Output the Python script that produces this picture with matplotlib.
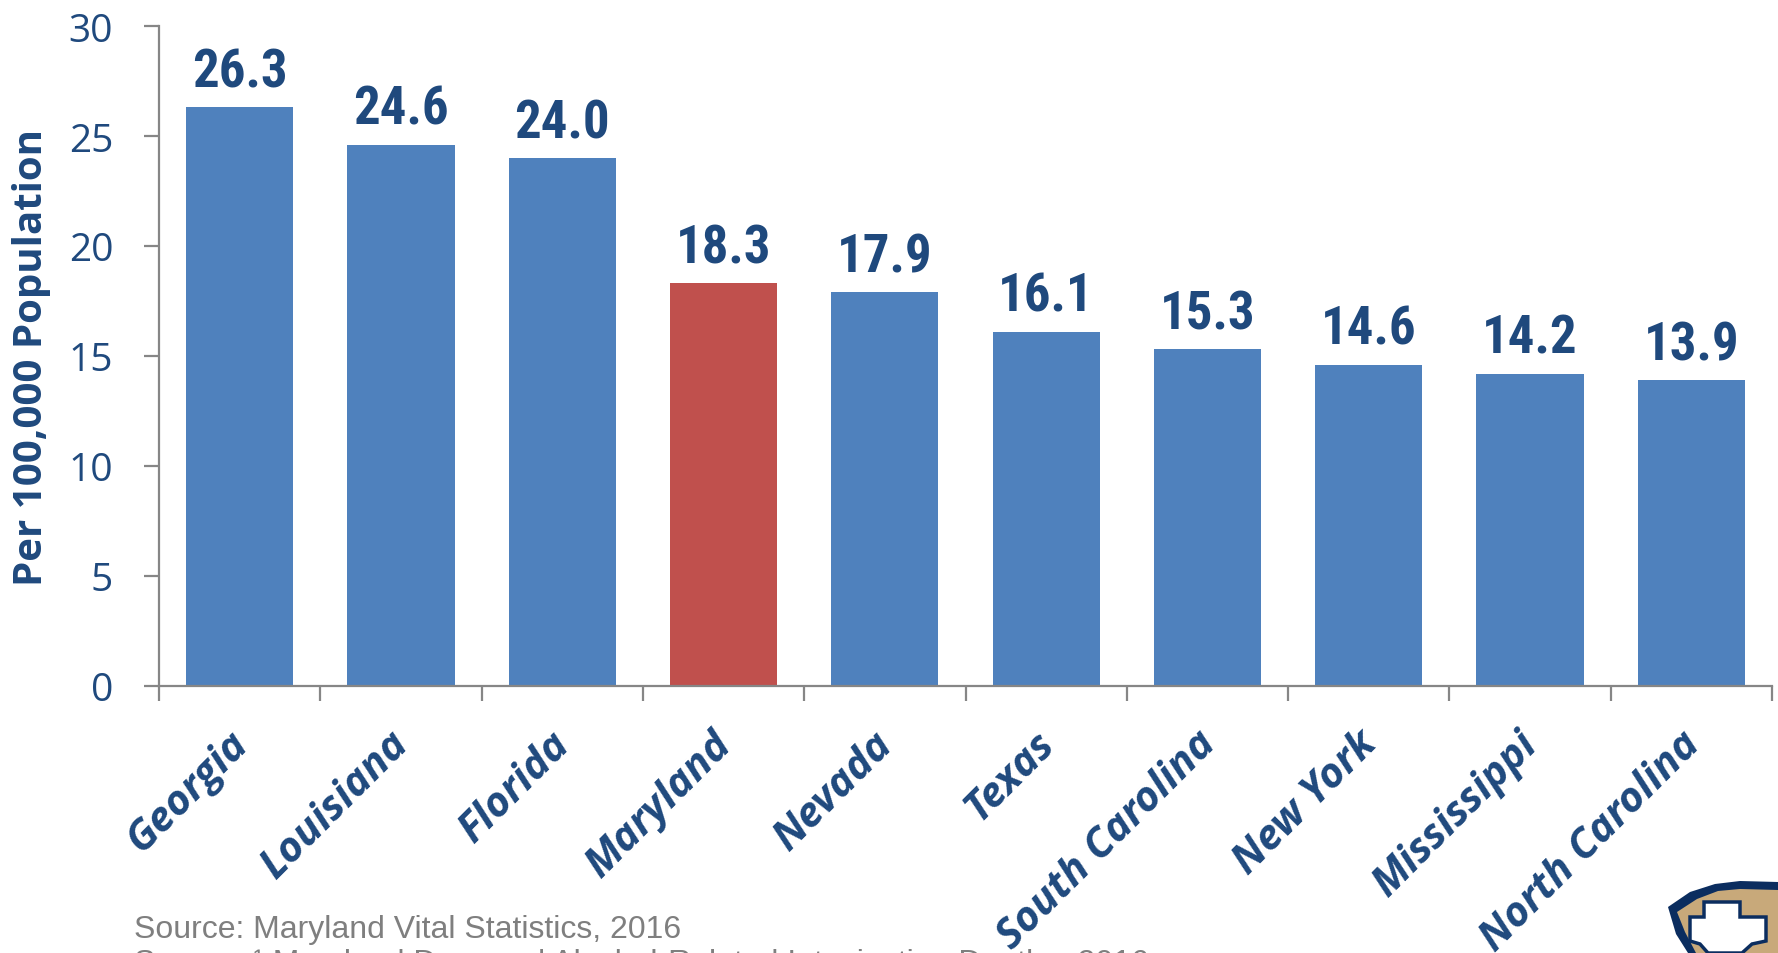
import matplotlib
matplotlib.use("Agg")
import matplotlib.pyplot as plt
from matplotlib import font_manager
from matplotlib.patches import Polygon
from matplotlib.transforms import ScaledTranslation

# 数据
states = ["Georgia", "Louisiana", "Florida", "Maryland", "Nevada", "Texas",
          "South Carolina", "New York", "Mississippi", "North Carolina"]
rates = [26.3, 24.6, 24.0, 18.3, 17.9, 16.1, 15.3, 14.6, 14.2, 13.9]
highlight = "Maryland"
y_ticks = [0, 5, 10, 15, 20, 25, 30]

BLUE = "#4F81BD"
RED = "#C0504D"
NAVY = "#1F497D"
GRAY = "#868686"

# 找一个窄体字做数值标签，没有就退回普通字体并缩小字号
installed = {f.name for f in font_manager.fontManager.ttflist}
narrow = None
for name in ["Liberation Sans Narrow", "Arial Narrow", "Roboto Condensed",
             "Open Sans Condensed", "Noto Sans Condensed"]:
    if name in installed:
        narrow = name
        break
if narrow:
    value_font, value_size = [narrow, "Liberation Sans"], 38
else:
    value_font, value_size = ["Liberation Sans", "DejaVu Sans"], 34

fig = plt.figure(figsize=(17.78, 9.54), dpi=100)
ax = fig.add_axes([159 / 1778, 1 - 687 / 954, 1613 / 1778, 660 / 954])

colors = [RED if s == highlight else BLUE for s in states]
x = list(range(len(states)))
ax.bar(x, rates, width=0.665, color=colors, zorder=2)

ax.set_xlim(-0.5, len(states) - 0.5)
ax.set_ylim(0, 30)

# 坐标轴样式
for side in ["top", "right"]:
    ax.spines[side].set_visible(False)
for side in ["left", "bottom"]:
    ax.spines[side].set_color(GRAY)
    ax.spines[side].set_linewidth(1.6)

ax.set_yticks(y_ticks)
ax.set_yticklabels([str(t) for t in y_ticks], family=["Open Sans", "DejaVu Sans"],
                   fontsize=28, color=NAVY)
ax.tick_params(axis="y", length=11, width=1.6, color=GRAY, pad=22)

ax.set_xticks([i - 0.5 for i in range(len(states) + 1)])
ax.set_xticklabels([])
ax.tick_params(axis="x", length=11, width=1.6, color=GRAY)

# 类别标签（45度）
offset = ScaledTranslation(0.17, -0.37, fig.dpi_scale_trans)
for i, name in enumerate(states):
    ax.text(i, 0, name, transform=ax.get_xaxis_transform() + offset,
            rotation=45, ha="right", va="top", fontsize=30,
            family=["Open Sans", "DejaVu Sans"], fontweight="bold",
            fontstyle="italic", color=NAVY)

# 数值标签
for i, v in enumerate(rates):
    ax.annotate(f"{v:.1f}", xy=(i, v), xytext=(0, 15), textcoords="offset points",
                ha="center", va="baseline", fontsize=value_size, fontweight="bold",
                family=value_font, color=NAVY)

fig.text(32 / 1778, 1 - 357 / 954, "Per 100,000 Population", rotation=90,
         ha="center", va="center", fontsize=29, fontweight="bold",
         family=["Open Sans", "DejaVu Sans"], color=NAVY)

# 数据来源（第二行在原图中被底边截断）
fig.text(134 / 1778, 1 - 938 / 954, "Source: Maryland Vital Statistics, 2016",
         fontsize=23, family=["Liberation Sans", "DejaVu Sans"], color="#7F7F7F")
fig.text(134 / 1778, 1 - 972 / 954,
         "Source: \u00b9 Maryland Drug and Alcohol-Related Intoxication Deaths, 2016",
         fontsize=23, family=["Liberation Sans", "DejaVu Sans"], color="#7F7F7F")

# 右下角徽标（盾形）
def px(pts):
    return [(a / 1778, 1 - b / 954) for a, b in pts]

outer = px([(1668, 908), (1690, 893), (1715, 885), (1740, 882), (1778, 883),
            (1778, 954), (1688, 954), (1676, 935)])
inner = px([(1677, 913), (1697, 900), (1718, 892), (1740, 890), (1778, 891),
            (1778, 954), (1696, 954), (1685, 933)])
cross = px([(1704, 903), (1740, 903), (1740, 918), (1766, 918), (1766, 942),
            (1752, 945), (1742, 954), (1708, 954), (1700, 945), (1690, 942),
            (1690, 918), (1704, 918)])
fig.patches.append(Polygon(outer, closed=True, transform=fig.transFigure,
                           facecolor="#0B2D5F", edgecolor="none"))
fig.patches.append(Polygon(inner, closed=True, transform=fig.transFigure,
                           facecolor="#C8A97A", edgecolor="none"))
fig.patches.append(Polygon(cross, closed=True, transform=fig.transFigure,
                           facecolor="white", edgecolor="#0B2D5F", linewidth=2.5))

fig.savefig("out.png", dpi=100)
